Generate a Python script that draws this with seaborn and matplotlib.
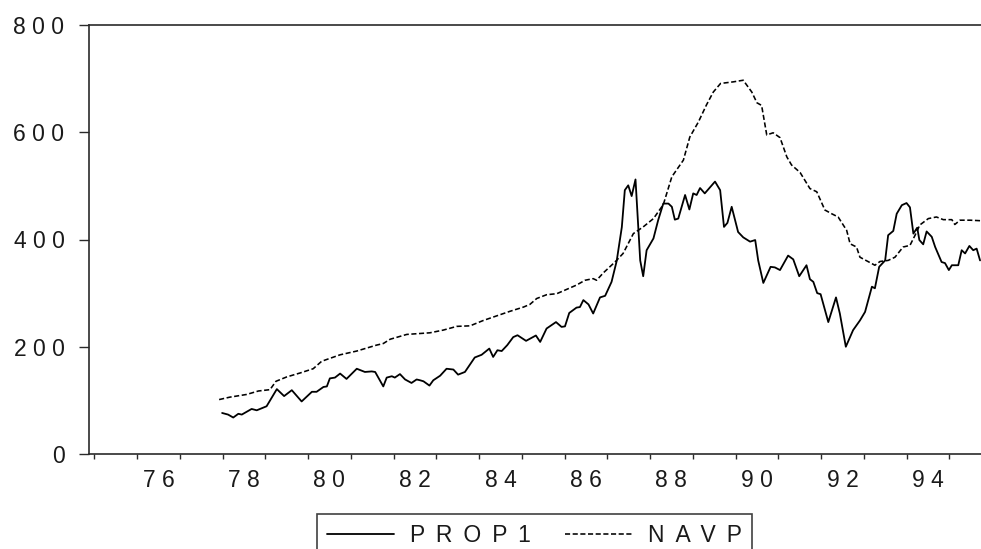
import numpy as np
import pandas as pd
import matplotlib
matplotlib.use("Agg")
import matplotlib.pyplot as plt
import seaborn as sns

# ---- data (decimal years) ----
prop1_dates = [1977.99, 1978.13, 1978.25, 1978.37, 1978.45, 1978.68, 1978.80, 1979.03, 1979.27, 1979.44,
               1979.62, 1979.85, 1980.09, 1980.20, 1980.36, 1980.44, 1980.51, 1980.63, 1980.75, 1980.90,
               1981.14, 1981.33, 1981.49, 1981.57, 1981.68, 1981.76, 1981.84, 1981.96, 1982.03, 1982.15,
               1982.27, 1982.42, 1982.54, 1982.62, 1982.70, 1982.84, 1982.93, 1983.09, 1983.24, 1983.40,
               1983.51, 1983.67, 1983.90, 1984.06, 1984.24, 1984.33, 1984.43, 1984.53, 1984.66, 1984.80,
               1984.90, 1985.10, 1985.19, 1985.33, 1985.43, 1985.58, 1985.80, 1985.93, 1986.01, 1986.11,
               1986.28, 1986.36, 1986.44, 1986.56, 1986.67, 1986.83, 1986.95, 1987.10, 1987.22, 1987.34,
               1987.41, 1987.49, 1987.57, 1987.66, 1987.77, 1987.84, 1987.92, 1988.08, 1988.19, 1988.31,
               1988.43, 1988.51, 1988.58, 1988.66, 1988.82, 1988.92, 1989.01, 1989.09, 1989.17, 1989.28,
               1989.52, 1989.64, 1989.73, 1989.81, 1989.91, 1990.06, 1990.18, 1990.34, 1990.46, 1990.53,
               1990.65, 1990.82, 1990.92, 1991.04, 1991.23, 1991.35, 1991.49, 1991.66, 1991.74, 1991.82,
               1991.91, 1991.99, 1992.17, 1992.35, 1992.44, 1992.58, 1992.75, 1992.91, 1993.03, 1993.19,
               1993.26, 1993.36, 1993.50, 1993.57, 1993.69, 1993.77, 1993.89, 1994.00, 1994.08, 1994.16,
               1994.25, 1994.30, 1994.39, 1994.47, 1994.59, 1994.67, 1994.82, 1994.90, 1994.99, 1995.06,
               1995.21, 1995.29, 1995.37, 1995.47, 1995.56, 1995.64, 1995.72]
prop1_values = [76.5, 73.5, 68, 75, 73.5, 84, 81.5, 89, 121, 108,
                119, 98, 116, 116, 125, 126, 141, 142.5, 150, 140,
                159, 153, 154, 153, 137.5, 126, 142.5, 145, 142.5, 149,
                139, 132.5, 139, 137.5, 135.6, 127.6, 137.5, 146, 159, 157.5,
                148, 153, 180, 185, 196.6, 181, 193.5, 192, 203, 218,
                221.5, 211, 215, 221, 209, 234, 246, 237, 238, 263,
                273, 274, 287, 279, 262, 292, 295, 321, 360, 423,
                492, 501, 481, 512, 361, 331.5, 380, 402, 436, 467,
                467, 461, 437, 439, 483, 456, 486, 483, 496, 486,
                508, 492, 423.5, 431, 461, 414, 404, 396, 399, 361,
                319, 349, 348, 343, 370, 363, 331.5, 352, 326, 321,
                300, 298, 246, 292, 262, 200, 231, 249, 265, 312,
                309, 349, 361, 408, 416, 448, 464, 468, 460, 411,
                422, 399, 391, 415, 405, 386, 358, 356, 343, 352,
                352, 380, 374, 388, 380, 383, 361]

navp_dates = [1977.92, 1978.17, 1978.56, 1978.84, 1979.11, 1979.25, 1979.50, 1979.81, 1980.12, 1980.32,
              1980.75, 1981.14, 1981.60, 1981.76, 1981.92, 1982.31, 1982.85, 1983.16, 1983.48, 1983.79,
              1984.10, 1984.41, 1984.72, 1985.04, 1985.19, 1985.35, 1985.58, 1985.82, 1986.05, 1986.28,
              1986.48, 1986.67, 1986.75, 1986.91, 1987.18, 1987.37, 1987.61, 1987.84, 1988.08, 1988.31,
              1988.51, 1988.78, 1988.93, 1989.13, 1989.32, 1989.48, 1989.65, 1989.95, 1990.18, 1990.38,
              1990.50, 1990.61, 1990.73, 1990.88, 1991.04, 1991.20, 1991.31, 1991.51, 1991.74, 1991.90,
              1992.09, 1992.25, 1992.40, 1992.60, 1992.68, 1992.83, 1992.91, 1993.26, 1993.38, 1993.57,
              1993.73, 1993.92, 1994.08, 1994.20, 1994.31, 1994.51, 1994.70, 1994.86, 1995.06, 1995.13,
              1995.25, 1995.49, 1995.74]
navp_values = [101.5, 106, 111, 117.5, 120, 135.6, 143.7, 151, 159, 173,
               185, 192, 203, 206, 214, 223, 226, 231, 238, 239,
               249, 257.5, 266, 274, 279, 290, 297, 299, 307, 315,
               324, 327, 324, 338, 358, 374, 411, 423.5, 439, 465,
               517, 548, 591, 619, 651, 675, 691, 694, 697, 675,
               655, 650, 595, 599, 590, 554, 539, 525, 495, 489,
               455, 448, 442, 417, 392, 386, 367, 352, 359, 361,
               367, 386, 389, 408, 427, 439, 442, 437, 437, 428,
               436, 436, 435]

year_ticks = list(range(1975, 1996))
label_years = [76, 78, 80, 82, 84, 86, 88, 90, 92, 94]
y_ticks = [0, 200, 400, 600, 800]
series_names = ["PROP1", "NAVP"]

# ---- style ----
sns.set_theme(style="white")
plt.rcParams["font.family"] = ["Liberation Sans", "DejaVu Sans"]
txt_color = "#1a1a1a"
fs = 16.5
wide_gap = " \u2009"

fig = plt.figure(figsize=(9.81, 5.49), dpi=100)
ax = fig.add_axes([89 / 981, 1 - 454 / 549, (981 - 89) / 981, (454 - 25) / 549])

df_p = pd.DataFrame({"date": prop1_dates, "value": prop1_values})
df_n = pd.DataFrame({"date": navp_dates, "value": navp_values})

sns.lineplot(data=df_p, x="date", y="value", ax=ax, color="black", linewidth=1.3,
             label=wide_gap.join(series_names[0]), estimator=None)
sns.lineplot(data=df_n, x="date", y="value", ax=ax, color="black", linewidth=1.15,
             linestyle=(0, (3.2, 1.6)), label=wide_gap.join(series_names[1]), estimator=None)

ax.set_xlim(1974.876, 1995.742)
ax.set_ylim(0, 800)
ax.set_xlabel("")
ax.set_ylabel("")

for side in ["left", "bottom", "top"]:
    ax.spines[side].set_visible(True)
    ax.spines[side].set_color("#2a2a2a")
    ax.spines[side].set_linewidth(1.2)
ax.spines["right"].set_visible(False)

ax.set_yticks(y_ticks, labels=[" ".join(str(v)) for v in y_ticks])
ax.tick_params(axis="y", which="major", direction="out", length=7.2, width=1.0,
               color="#2a2a2a", pad=10.5, labelsize=fs, labelcolor=txt_color, left=True)

ax.set_xticks(year_ticks, labels=[""] * len(year_ticks))
ax.set_xticks([1900 + y + 0.5 for y in label_years],
              labels=[" ".join(str(y)) for y in label_years], minor=True)
ax.tick_params(axis="x", which="major", direction="out", length=3.5, width=1.0,
               color="#2a2a2a", bottom=True)
ax.tick_params(axis="x", which="minor", length=0, pad=10.5, labelsize=fs,
               labelcolor=txt_color, bottom=True)
ax.grid(False)

ax.legend_.remove()
handles, labels = ax.get_legend_handles_labels()
leg = fig.legend(handles, labels, loc="upper left",
                 bbox_to_anchor=(317 / 981, 1 - 514 / 549), bbox_transform=fig.transFigure,
                 ncol=2, frameon=True, fancybox=False, fontsize=fs,
                 handlelength=2.9, handletextpad=0.7, columnspacing=1.5,
                 borderpad=0.45, borderaxespad=0.0)
leg.get_frame().set_edgecolor("#111111")
leg.get_frame().set_linewidth(1.2)
for t in leg.get_texts():
    t.set_color(txt_color)

fig.savefig("out.png", dpi=100)
